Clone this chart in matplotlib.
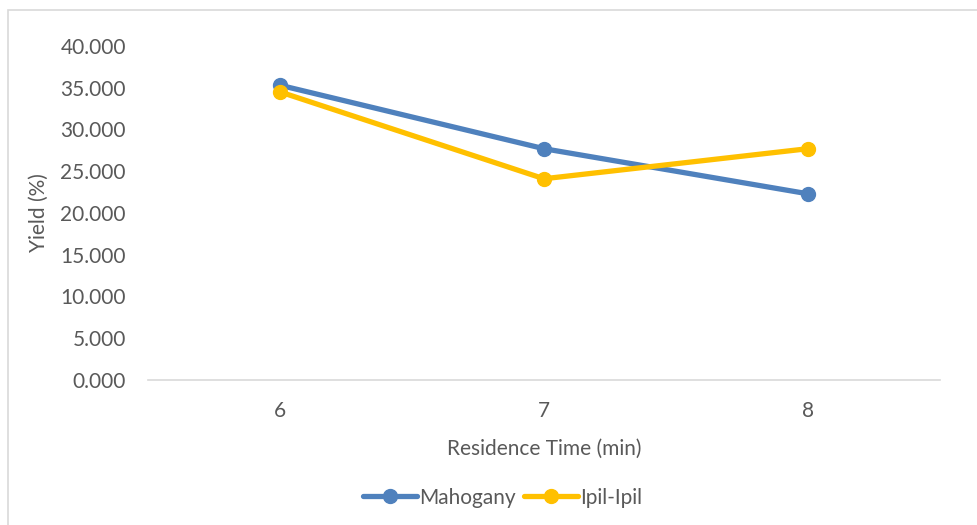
import matplotlib
matplotlib.use("Agg")
import matplotlib.pyplot as plt
from matplotlib.patches import Rectangle

plt.rcParams["font.family"] = ["Lato", "DejaVu Sans"]

residence_time = [6, 7, 8]
mahogany = [35.3, 27.7, 22.3]
ipil_ipil = [34.5, 24.1, 27.7]
y_ticks = [0, 5, 10, 15, 20, 25, 30, 35, 40]

text_color = "#595959"
fs = 15

fig = plt.figure(figsize=(9.77, 5.25), dpi=100)
ax = fig.add_axes([0.1515, 0.2762, 0.8105, 0.6362])

ax.plot(residence_time, mahogany, color="#4F81BD", lw=3.8, marker="o",
        markersize=10, label="Mahogany", solid_capstyle="round")
ax.plot(residence_time, ipil_ipil, color="#FFC000", lw=3.8, marker="o",
        markersize=10, label="Ipil-Ipil", solid_capstyle="round")

ax.set_xlim(5.5, 8.5)
ax.set_ylim(0, 40)
ax.set_xticks(residence_time)
ax.set_xticklabels([str(t) for t in residence_time])
ax.set_yticks(y_ticks)
ax.set_yticklabels([f"{v:.3f}" for v in y_ticks])
ax.tick_params(length=0, labelsize=fs, colors=text_color)
ax.tick_params(axis="y", pad=16)
ax.tick_params(axis="x", pad=15)

for side in ["top", "right", "left"]:
    ax.spines[side].set_visible(False)
ax.spines["bottom"].set_color("#D9D9D9")
ax.spines["bottom"].set_linewidth(1.2)

ax.set_xlabel("Residence Time (min)", fontsize=fs, color=text_color, labelpad=13)
ax.set_ylabel("Yield (%)", fontsize=fs, color=text_color, labelpad=8)

ax.legend(loc="center", bbox_to_anchor=(0.448, -0.352), ncol=2,
          frameon=False, fontsize=fs, labelcolor=text_color,
          handlelength=2.6, handletextpad=0.1, columnspacing=0.4)

# chart border (light grey frame, clipped on right/bottom)
fig.patches.append(Rectangle((8 / 977, -0.1), 1.2, 1.1 - 10 / 525,
                             transform=fig.transFigure, fill=False,
                             edgecolor="#D9D9D9", lw=1.2))

fig.savefig("out.png", dpi=100)
